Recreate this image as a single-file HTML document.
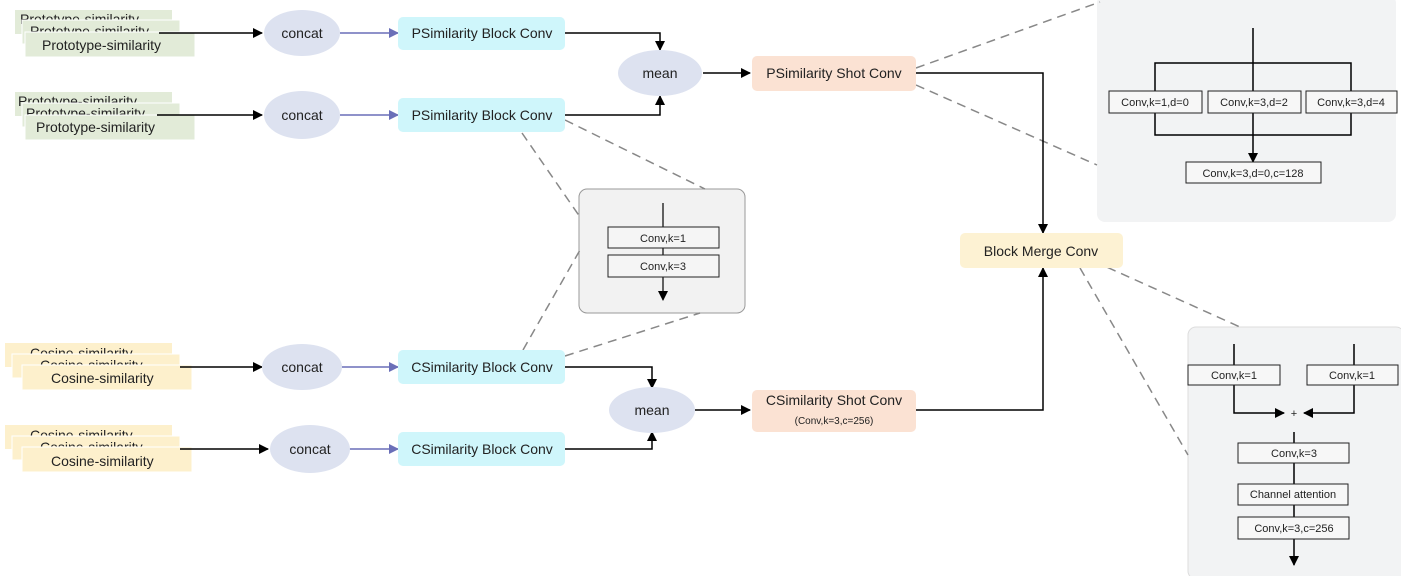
<!DOCTYPE html>
<html><head><meta charset="utf-8"><style>
html,body{margin:0;padding:0;background:#fff;}
svg{display:block;font-family:"Liberation Sans",sans-serif;}
</style></head><body>
<svg width="1401" height="576" viewBox="0 0 1401 576" xmlns="http://www.w3.org/2000/svg">
<defs>
<marker id="ak" markerWidth="10" markerHeight="10" refX="9" refY="5" orient="auto" markerUnits="userSpaceOnUse"><path d="M0,0 L10,5 L0,10 z" fill="#000"/></marker>
<marker id="ab" markerWidth="10" markerHeight="10" refX="9" refY="5" orient="auto" markerUnits="userSpaceOnUse"><path d="M0,0 L10,5 L0,10 z" fill="#6a6fb8"/></marker>
</defs>
<rect x="1097" y="-5" width="299" height="227" rx="8" fill="#f2f3f4"/>
<rect x="1188" y="327" width="216" height="252" rx="8" fill="#f2f3f4" stroke="#ddd"/>
<rect x="579" y="189" width="166" height="124" rx="8" fill="#f2f2f2" stroke="#999"/>
<g stroke="#888" stroke-width="1.5" stroke-dasharray="9,6" fill="none">
<line x1="522" y1="133" x2="580" y2="217"/>
<line x1="565" y1="120" x2="705" y2="189"/>
<line x1="523" y1="350" x2="580" y2="250"/>
<line x1="565" y1="356" x2="700" y2="313"/>
<line x1="916" y1="68" x2="1100" y2="2"/>
<line x1="916" y1="85" x2="1097" y2="165"/>
<line x1="1080" y1="255" x2="1240" y2="327"/>
<line x1="1080" y1="268" x2="1188" y2="455"/>
</g>
<g font-size="14" fill="#222">
<rect x="15" y="10" width="157" height="24" fill="#e2ebd8"/>
<text x="20" y="24">Prototype-similarity</text>
<rect x="22" y="20" width="158" height="24" fill="#e2ebd8" stroke="#fff"/>
<text x="30" y="36">Prototype-similarity</text>
<rect x="25" y="32" width="170" height="25" fill="#e2ebd8" stroke="#fff"/>
<text x="42" y="50">Prototype-similarity</text>

<rect x="15" y="92" width="157" height="24" fill="#e2ebd8"/>
<text x="18" y="106">Prototype-similarity</text>
<rect x="22" y="103" width="158" height="24" fill="#e2ebd8" stroke="#fff"/>
<text x="26" y="118">Prototype-similarity</text>
<rect x="25" y="115" width="170" height="25" fill="#e2ebd8" stroke="#fff"/>
<text x="36" y="132">Prototype-similarity</text>

<rect x="5" y="343" width="167" height="24" fill="#fdf0cc"/>
<text x="30" y="358">Cosine-similarity</text>
<rect x="12" y="354" width="168" height="24" fill="#fdf0cc" stroke="#fff"/>
<text x="40" y="370">Cosine-similarity</text>
<rect x="22" y="365" width="170" height="25" fill="#fdf0cc" stroke="#fff"/>
<text x="51" y="383">Cosine-similarity</text>

<rect x="5" y="425" width="167" height="24" fill="#fdf0cc"/>
<text x="30" y="440">Cosine-similarity</text>
<rect x="12" y="436" width="168" height="24" fill="#fdf0cc" stroke="#fff"/>
<text x="40" y="452">Cosine-similarity</text>
<rect x="22" y="447" width="170" height="25" fill="#fdf0cc" stroke="#fff"/>
<text x="51" y="466">Cosine-similarity</text>
</g>
<g stroke="#000" stroke-width="1.5" fill="none">
<line x1="159" y1="33" x2="262" y2="33" marker-end="url(#ak)"/>
<line x1="157" y1="115" x2="262" y2="115" marker-end="url(#ak)"/>
<line x1="180" y1="367" x2="262" y2="367" marker-end="url(#ak)"/>
<line x1="180" y1="449" x2="268" y2="449" marker-end="url(#ak)"/>
<polyline points="565,33 660,33 660,50" marker-end="url(#ak)"/>
<polyline points="565,115 660,115 660,96" marker-end="url(#ak)"/>
<line x1="703" y1="73" x2="750" y2="73" marker-end="url(#ak)"/>
<polyline points="916,73 1043,73 1043,233" marker-end="url(#ak)"/>
<polyline points="565,367 652,367 652,388" marker-end="url(#ak)"/>
<polyline points="565,449 652,449 652,432" marker-end="url(#ak)"/>
<line x1="695" y1="410" x2="750" y2="410" marker-end="url(#ak)"/>
<polyline points="916,410 1043,410 1043,268" marker-end="url(#ak)"/>
</g>
<g stroke="#6a6fb8" stroke-width="1.5">
<line x1="340" y1="33" x2="398" y2="33" marker-end="url(#ab)"/>
<line x1="340" y1="115" x2="398" y2="115" marker-end="url(#ab)"/>
<line x1="340" y1="367" x2="398" y2="367" marker-end="url(#ab)"/>
<line x1="348" y1="449" x2="398" y2="449" marker-end="url(#ab)"/>
</g>
<g fill="#dde2f0">
<ellipse cx="302" cy="33" rx="38" ry="23"/>
<ellipse cx="302" cy="115" rx="38" ry="24"/>
<ellipse cx="302" cy="367" rx="40" ry="23"/>
<ellipse cx="310" cy="449" rx="40" ry="24"/>
<ellipse cx="660" cy="73" rx="42" ry="23"/>
<ellipse cx="652" cy="410" rx="43" ry="23"/>
</g>
<g font-size="14" fill="#222" text-anchor="middle">
<text x="302" y="38">concat</text><text x="302" y="120">concat</text>
<text x="302" y="372">concat</text><text x="310" y="454">concat</text>
<text x="660" y="78">mean</text><text x="652" y="415">mean</text>
</g>
<g>
<rect x="398" y="17" width="167" height="33" rx="5" fill="#cff6fb"/>
<rect x="398" y="98" width="167" height="34" rx="5" fill="#cff6fb"/>
<rect x="398" y="350" width="167" height="34" rx="5" fill="#cff6fb"/>
<rect x="398" y="432" width="167" height="34" rx="5" fill="#cff6fb"/>
<rect x="752" y="56" width="164" height="35" rx="5" fill="#fbe2d3"/>
<rect x="752" y="390" width="164" height="42" rx="5" fill="#fbe2d3"/>
<rect x="960" y="233" width="163" height="35" rx="5" fill="#fdf2d3"/>
</g>
<g font-size="14" fill="#222" text-anchor="middle">
<text x="482" y="38">PSimilarity Block Conv</text>
<text x="482" y="120">PSimilarity Block Conv</text>
<text x="482" y="372">CSimilarity Block Conv</text>
<text x="482" y="454">CSimilarity Block Conv</text>
<text x="834" y="78">PSimilarity Shot Conv</text>
<text x="834" y="405">CSimilarity Shot Conv</text>
<text x="834" y="424" font-size="10">(Conv,k=3,c=256)</text>
<text x="1041" y="256">Block Merge Conv</text>
</g>
<g stroke="#000" stroke-width="1.2" fill="none">
<line x1="663" y1="203" x2="663" y2="300" marker-end="url(#ak)"/>
</g>
<g stroke="#222" stroke-width="1" fill="#f5f5f5">
<rect x="608" y="227" width="111" height="21"/>
<rect x="608" y="255" width="111" height="22"/>
</g>
<g font-size="11" fill="#222" text-anchor="middle">
<text x="663" y="242">Conv,k=1</text><text x="663" y="270">Conv,k=3</text>
</g>
<g stroke="#000" stroke-width="1.5" fill="none">
<line x1="1253" y1="28" x2="1253" y2="162" marker-end="url(#ak)"/>
<polyline points="1155,91 1155,63 1351,63 1351,91"/>
<polyline points="1155,113 1155,135 1351,135 1351,113"/>
</g>
<g stroke="#222" stroke-width="1" fill="#f7f7f7">
<rect x="1109" y="91" width="93" height="22"/>
<rect x="1208" y="91" width="93" height="22"/>
<rect x="1306" y="91" width="91" height="22"/>
<rect x="1186" y="162" width="135" height="21"/>
</g>
<g font-size="11" fill="#222" text-anchor="middle">
<text x="1155" y="106">Conv,k=1,d=0</text><text x="1254" y="106">Conv,k=3,d=2</text>
<text x="1351" y="106">Conv,k=3,d=4</text><text x="1253" y="177">Conv,k=3,d=0,c=128</text>
</g>
<g stroke="#000" stroke-width="1.5" fill="none">
<polyline points="1234,344 1234,413 1284,413" marker-end="url(#ak)"/>
<polyline points="1354,344 1354,413 1304,413" marker-end="url(#ak)"/>
<line x1="1294" y1="432" x2="1294" y2="565" marker-end="url(#ak)"/>
</g>
<g stroke="#222" stroke-width="1" fill="#f7f7f7">
<rect x="1188" y="365" width="92" height="20"/>
<rect x="1307" y="365" width="91" height="20"/>
<rect x="1238" y="443" width="111" height="20"/>
<rect x="1238" y="484" width="110" height="21"/>
<rect x="1238" y="517" width="111" height="22"/>
</g>
<g font-size="11" fill="#222" text-anchor="middle">
<text x="1234" y="379">Conv,k=1</text><text x="1352" y="379">Conv,k=1</text>
<text x="1294" y="417">+</text>
<text x="1294" y="457">Conv,k=3</text>
<text x="1293" y="498">Channel attention</text>
<text x="1294" y="532">Conv,k=3,c=256</text>
</g>
</svg>
</body></html>
